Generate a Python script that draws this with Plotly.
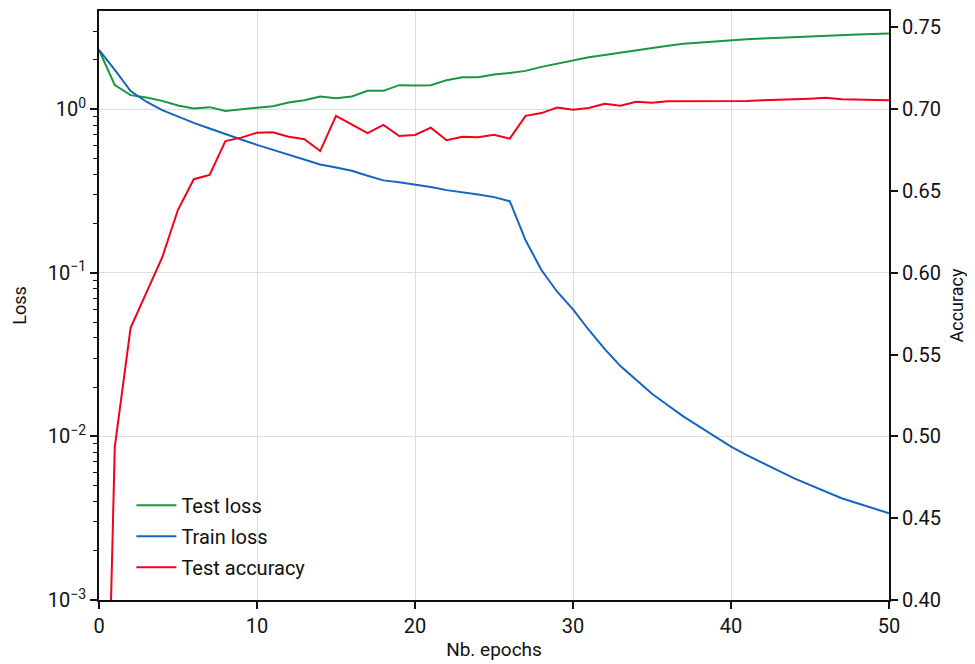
import plotly.graph_objects as go

epochs = list(range(51))

test_loss = [2.30, 1.402, 1.218, 1.179, 1.124, 1.053, 1.010, 1.029, 0.976, 0.996, 1.014,
             1.043, 1.099, 1.135, 1.196, 1.167, 1.196, 1.294, 1.294, 1.402, 1.396,
             1.402, 1.504, 1.569, 1.569, 1.629, 1.666, 1.714, 1.813, 1.902, 1.992,
             2.078, 2.146, 2.221, 2.293, 2.358, 2.44, 2.509, 2.556, 2.599, 2.640,
             2.673, 2.703, 2.734, 2.761, 2.788, 2.816, 2.840, 2.864, 2.884, 2.904]

train_loss = [2.30, 1.74, 1.29, 1.11, 0.986, 0.897, 0.824, 0.762, 0.703, 0.653, 0.605,
              0.564, 0.526, 0.493, 0.459, 0.440, 0.420, 0.392, 0.367, 0.358, 0.347,
              0.334, 0.320, 0.311, 0.301, 0.290, 0.274, 0.158, 0.104, 0.0766, 0.0598,
              0.0447, 0.0343, 0.0269, 0.0221, 0.0182, 0.0155, 0.0132, 0.01146, 0.00995, 0.00865,
              0.00769, 0.00685, 0.00617, 0.00554, 0.00505, 0.00459, 0.00419, 0.00390, 0.00363, 0.00339]

test_acc = [0.10, 0.4936, 0.5664, 0.5879, 0.6094, 0.6385, 0.6572, 0.6598, 0.6805, 0.6826, 0.6856,
            0.6859, 0.6832, 0.6816, 0.6744, 0.6959, 0.6908, 0.6853, 0.6904, 0.6836, 0.6842,
            0.6887, 0.6810, 0.6832, 0.6828, 0.6844, 0.6820, 0.6959, 0.6976, 0.7010, 0.6996,
            0.7007, 0.7033, 0.7021, 0.7045, 0.7039, 0.7049, 0.7049, 0.7048, 0.7048, 0.7049,
            0.7050, 0.7054, 0.7059, 0.7060, 0.7064, 0.7070, 0.7061, 0.7060, 0.7060, 0.7055]

x_ticks = [0, 10, 20, 30, 40, 50]
loss_tickvals = [1e-3, 1e-2, 1e-1, 1e0]
loss_ticktext = ["10<sup>\u22123</sup>", "10<sup>\u22122</sup>", "10<sup>\u22121</sup>", "10<sup>0</sup>"]
acc_tickvals = [0.40, 0.45, 0.50, 0.55, 0.60, 0.65, 0.70, 0.75]
acc_ticktext = ["0.40", "0.45", "0.50", "0.55", "0.60", "0.65", "0.70", "0.75"]

minor_vals = [k * 10.0 ** n for n in range(-3, 1) for k in range(2, 10)]

GREEN = "#1a9641"
BLUE = "#1565c0"
RED = "#f2001c"
FONT = "Roboto"
INK = "#111111"

fig = go.Figure()
fig.add_trace(go.Scatter(x=epochs, y=test_loss, mode="lines", name="Test loss",
                         line=dict(color=GREEN, width=2), legendgroup="a"))
fig.add_trace(go.Scatter(x=epochs, y=train_loss, mode="lines", name="Train loss",
                         line=dict(color=BLUE, width=2), legendgroup="b"))
fig.add_trace(go.Scatter(x=epochs, y=test_acc, mode="lines", name="Test accuracy",
                         line=dict(color=RED, width=2), yaxis="y2", legendgroup="c"))

fig.update_layout(
    width=975, height=664,
    margin=dict(l=91, r=94, t=3, b=72, autoexpand=False),
    plot_bgcolor="white", paper_bgcolor="white",
    font=dict(family=FONT, size=20, color=INK),
    showlegend=True,
    legend=dict(x=0.041, y=0.194, xanchor="left", yanchor="top",
                bgcolor="rgba(255,255,255,0)", font=dict(size=20),
                tracegroupgap=2, itemwidth=40),
    xaxis=dict(range=[0, 50], tickvals=x_ticks, ticks="outside", ticklen=7, tickwidth=1.5,
               tickcolor=INK, automargin=False,
               showline=True, linecolor=INK, linewidth=2, mirror=True,
               showgrid=True, gridcolor="#dddddd", gridwidth=1, zeroline=False,
               title=dict(text="Nb. epochs", standoff=6, font=dict(size=19))),
    yaxis=dict(type="log", range=[-3, 0.6], tickvals=loss_tickvals, ticktext=loss_ticktext,
               ticks="outside", ticklen=7, tickwidth=1.5, tickcolor=INK, automargin=False,
               minor=dict(tickvals=minor_vals, ticks="outside", ticklen=4, tickwidth=1.2,
                          tickcolor=INK, showgrid=False),
               showline=True, linecolor=INK, linewidth=2,
               showgrid=True, gridcolor="#dddddd", gridwidth=1, zeroline=False,
               title=dict(text="Loss", standoff=16, font=dict(size=18))),
    yaxis2=dict(overlaying="y", side="right", range=[0.40, 0.76],
                tickvals=acc_tickvals, ticktext=acc_ticktext, automargin=False,
                ticks="outside", ticklen=7, tickwidth=1.5, tickcolor=INK,
                showline=True, linecolor=INK, linewidth=2,
                showgrid=False, zeroline=False,
                title=dict(text="Accuracy", standoff=10, font=dict(size=18))),
)

fig.write_html("out.html")
